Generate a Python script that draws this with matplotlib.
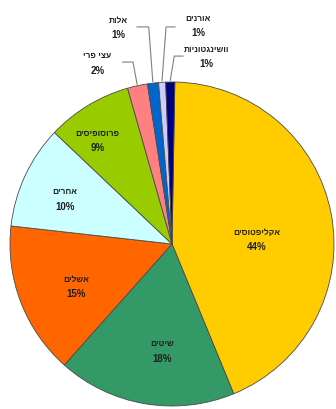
import matplotlib
matplotlib.use("Agg")
import numpy as np
import matplotlib.pyplot as plt

# tree species share (percent), clockwise from 12 o'clock
species = ["אקליפטוסים", "שיטים", "אשלים", "אחרים", "פרוסופיסים",
           "עצי פרי", "אלות", "אורנים", "וושינגטוניות"]
shares = [43.5, 17.8, 15.2, 10.3, 8.5, 2.0, 1.1, 0.7, 0.9]
colors = ["#FFCC00", "#339966", "#FF6600", "#CCFFFF", "#99CC00",
          "#FF8080", "#0066CC", "#CCCCFF", "#000080"]

# label block centres (data units, radius = 1)
label_pos = [(0.525, 0.03), (-0.06, -0.66), (-0.59, -0.26), (-0.66, 0.28), (-0.46, 0.64),
             (-0.46, 1.12), (-0.33, 1.34), (0.16, 1.35), (0.21, 1.16)]
# leader lines for the thin slices: slice index -> (line y, x where it meets the text)
leaders = {5: (1.123, -0.305), 6: (1.34, -0.216), 7: (1.34, 0.019), 8: (1.16, 0.068)}


def visual(s):
    # matplotlib has no bidi support, so lay Hebrew out right-to-left by hand
    return s[::-1]


plt.rcParams['font.family'] = ['Liberation Sans', 'DejaVu Sans']

fig = plt.figure(figsize=(3.36, 4.10), dpi=100)
ax = fig.add_axes([0, 0, 1, 1])
wedges, _ = ax.pie(shares, colors=colors, startangle=89, counterclock=False,
                   wedgeprops=dict(edgecolor="#4a4a4a", linewidth=0.6))
ax.set_xlim(-172 / 162, 164 / 162)
ax.set_ylim(-165 / 162, 245 / 162)
ax.set_aspect("auto")
ax.axis("off")

d = 0.043
for i, (name, val) in enumerate(zip(species, shares)):
    x, y = label_pos[i]
    ax.text(x, y + d, visual(name), ha="center", va="center", fontsize=6,
            fontweight="bold", color="#1e1e1e")
    ax.text(x, y - d, f"{int(val + 0.5)}%", ha="center", va="center", fontsize=7,
            fontweight="bold", color="#1e1e1e")
    if i in leaders:
        ly, ex = leaders[i]
        w = wedges[i]
        mid = np.deg2rad((w.theta1 + w.theta2) / 2)
        px, py = 1.01 * np.cos(mid), 1.01 * np.sin(mid)
        elbow = px + (-0.025 if ex < px else 0.025)
        ax.plot([ex, elbow, px], [ly, ly, py], color="#808080", lw=0.8)

fig.savefig("out.png", dpi=100)
